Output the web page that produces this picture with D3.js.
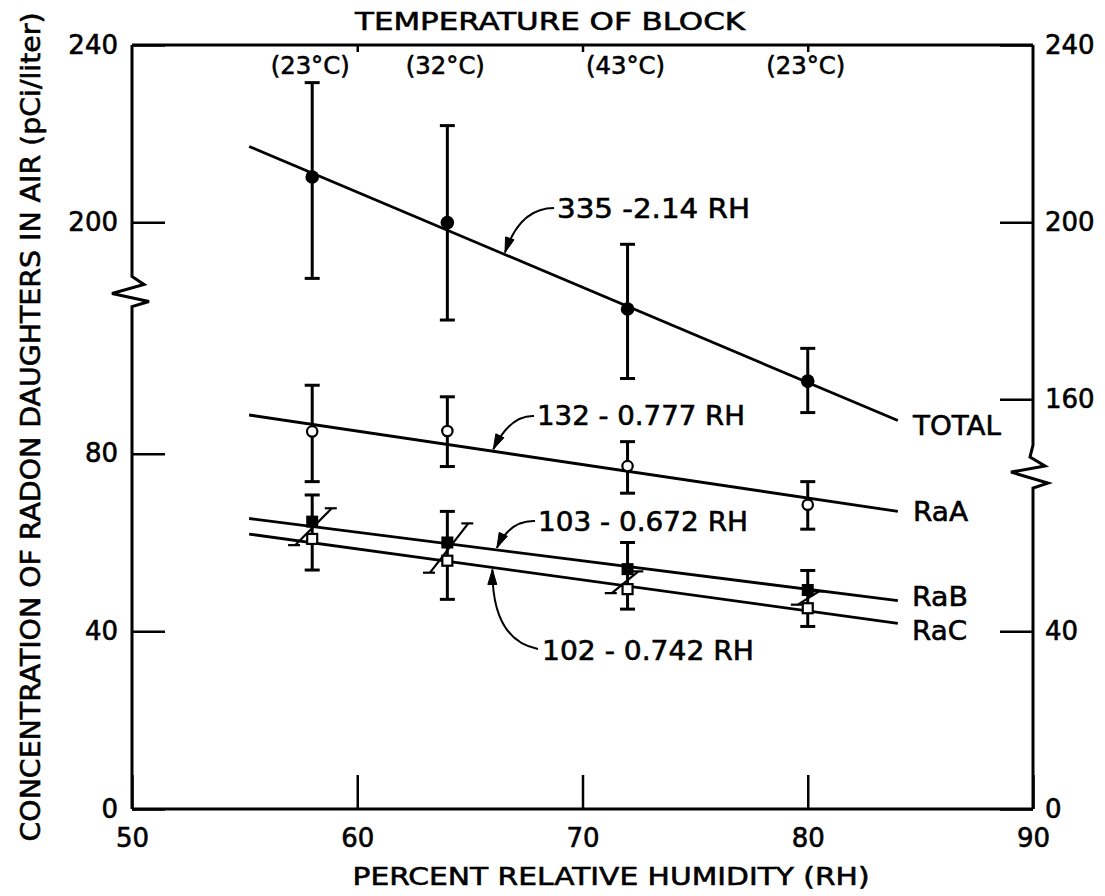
<!DOCTYPE html>
<html><head><meta charset="utf-8">
<script src="https://cdn.jsdelivr.net/npm/d3@7"></script>
<style>
body{margin:0;background:#fff}
svg{display:block}
text{font-family:"DejaVu Sans",sans-serif;fill:#000;stroke:#000;stroke-width:0.6px}
</style>
</head><body>
<svg id="chart" width="1105" height="896"></svg>
<script>
// ---------------- data ----------------
const humidity    = [58, 64, 72, 80];
const blockTemps  = ["(23°C)", "(32°C)", "(43°C)", "(23°C)"];

const totalValues = [210.2, 199.9, 180.4, 164.1];
const totalLow    = [187.3, 177.9, 164.7, 157.0];
const totalHigh   = [231.5, 221.8, 195.0, 171.5];

const raAValues   = [85.0, 85.1, 77.2, 68.5];
const raALow      = [73.7, 77.1, 71.1, 63.0];
const raAHigh     = [95.4, 92.8, 82.7, 73.7];

const raBValues   = [64.7, 60.0, 54.0, 49.3];
const raBHigh     = [70.7, 67.0, 60.0, 53.7];

const raCValues   = [60.8, 55.9, 49.5, 45.2];
const raCLow      = [53.8, 47.2, 45.0, 41.1];

const fitRange    = [55.2, 84.0];
const totalFit    = [217.1, 155.2];
const raAFit      = [88.7, 67.0];
const raBFit      = [65.4, 46.9];
const raCFit      = [61.9, 41.8];

const slantLow    = [[57.24, 59.4], [63.23, 53.2], [71.3, 48.6], [79.56, 46.0]];
const slantHigh   = [[58.87, 67.7], [64.93, 64.3], [72.48, 53.5], [80.5, 49.0]];

const xTicks          = [50, 60, 70, 80, 90];
const topTicks        = [60, 70, 80];
const yLowTicksLeft   = [0, 40, 80];
const yHighTicksLeft  = [200, 240];
const yLowTicksRight  = [0, 40];
const yHighTicksRight = [160, 200, 240];

const seriesNames  = ["TOTAL", "RaA", "RaB", "RaC"];
const fitEquations = ["335 -2.14 RH", "132 - 0.777 RH", "103 - 0.672 RH", "102 - 0.742 RH"];
const equationTipRH = [66.56, 66.04, 66.2, 66.0];

// ---------------- scales ----------------
const svg = d3.select("#chart");
const x = d3.scaleLinear().domain([50, 90]).range([132, 1033]);
const yLow = d3.scaleLinear().domain([0, 172]).range([809, 45]);   // lower segment
const yHigh = d3.scaleLinear().domain([160, 240]).range([399.3, 45]); // upper segment
const leftBreakAt = 116.5;   // lower-scale value of break on left axis
const rightBreakAt = 77.2;   // lower-scale value of break on right axis

const SW = 3;
const ink = "#000";

// ---------------- axes frame ----------------
const lineGen = d3.line();
function axisWithBreak(xv, breakVal, zig) {
  const x0 = x(xv), yc = yLow(breakVal);
  const pts = [[x0, yHigh(240)]];
  zig.forEach(([dx, dy]) => pts.push([x0 + dx, yc + dy]));
  pts.push([x0, yLow(0)]);
  return lineGen(pts);
}
svg.append("path").attr("d", axisWithBreak(50, leftBreakAt,
  [[0, -15], [12, -7], [-20, 2], [17, 10], [0, 15]]))
  .attr("fill", "none").attr("stroke", ink).attr("stroke-width", SW);
svg.append("path").attr("d", axisWithBreak(90, rightBreakAt,
  [[0, -21], [-3, -9], [12, 0], [-22, 6], [15, 17], [0, 22]]))
  .attr("fill", "none").attr("stroke", ink).attr("stroke-width", SW);
svg.append("line").attr("x1", x(50)).attr("x2", x(90)).attr("y1", yHigh(240)).attr("y2", yHigh(240))
  .attr("stroke", ink).attr("stroke-width", SW);
svg.append("line").attr("x1", x(50)).attr("x2", x(90)).attr("y1", yLow(0)).attr("y2", yLow(0))
  .attr("stroke", ink).attr("stroke-width", SW);

function styleAxis(g) {
  g.select(".domain").remove();
  g.selectAll(".tick line").attr("stroke", ink).attr("stroke-width", 2.5);
  g.selectAll(".tick text").attr("font-family", '"DejaVu Sans", sans-serif')
    .attr("font-size", 26).attr("fill", ink);
}

// left axis
svg.append("g").attr("transform", `translate(${x(50)},0)`)
  .call(d3.axisLeft(yLow).tickValues(yLowTicksLeft).tickSize(-33).tickPadding(14))
  .call(styleAxis);
svg.append("g").attr("transform", `translate(${x(50)},0)`)
  .call(d3.axisLeft(yHigh).tickValues(yHighTicksLeft).tickSize(-33).tickPadding(14))
  .call(styleAxis);
// right axis
svg.append("g").attr("transform", `translate(${x(90)},0)`)
  .call(d3.axisRight(yLow).tickValues(yLowTicksRight).tickSize(-33).tickPadding(12))
  .call(styleAxis);
svg.append("g").attr("transform", `translate(${x(90)},0)`)
  .call(d3.axisRight(yHigh).tickValues(yHighTicksRight).tickSize(-33).tickPadding(12))
  .call(styleAxis);
// bottom axis
svg.append("g").attr("transform", `translate(0,${yLow(0)})`)
  .call(d3.axisBottom(x).tickValues(xTicks).tickSize(-34).tickPadding(20))
  .call(styleAxis);
// top short ticks
svg.append("g").attr("transform", `translate(0,${yHigh(240)})`)
  .call(d3.axisTop(x).tickValues(topTicks).tickSize(-7).tickFormat(""))
  .call(styleAxis);

// ---------------- titles ----------------
svg.append("text").attr("x", 550).attr("y", 30).attr("text-anchor", "middle")
  .attr("font-size", 25).attr("textLength", 390).attr("lengthAdjust", "spacingAndGlyphs")
  .text("TEMPERATURE OF BLOCK");
svg.append("text").attr("x", 611).attr("y", 885).attr("text-anchor", "middle")
  .attr("font-size", 25).attr("textLength", 517).attr("lengthAdjust", "spacingAndGlyphs")
  .text("PERCENT RELATIVE HUMIDITY (RH)");
svg.append("text").attr("transform", "translate(40,427) rotate(-90)").attr("text-anchor", "middle")
  .attr("font-size", 27).attr("textLength", 829).attr("lengthAdjust", "spacingAndGlyphs")
  .text("CONCENTRATION OF RADON DAUGHTERS IN AIR (pCi/liter)");

// temperature labels
svg.selectAll("text.temp").data(humidity).join("text").attr("class", "temp")
  .attr("x", d => x(d) - 2).attr("y", 74).attr("text-anchor", "middle")
  .attr("font-size", 25).attr("textLength", 79).attr("lengthAdjust", "spacingAndGlyphs")
  .text((d, i) => blockTemps[i]);

// ---------------- fit lines ----------------
const fits = [
  {vals: totalFit, y: yHigh},
  {vals: raAFit, y: yLow},
  {vals: raBFit, y: yLow},
  {vals: raCFit, y: yLow}
];
fits.forEach(f => {
  svg.append("path")
    .attr("d", lineGen(fitRange.map((r, i) => [x(r), f.y(f.vals[i])])))
    .attr("fill", "none").attr("stroke", ink).attr("stroke-width", 2.8);
});
function fitAt(f, rh) {
  const t = (rh - fitRange[0]) / (fitRange[1] - fitRange[0]);
  return f.y(f.vals[0] + t * (f.vals[1] - f.vals[0]));
}

// ---------------- error bars ----------------
const capW = 15;
function errBar(g, xv, yTop, yBot) {
  g.append("line").attr("x1", xv).attr("x2", xv).attr("y1", yTop).attr("y2", yBot)
    .attr("stroke", ink).attr("stroke-width", SW);
  [yTop, yBot].forEach(yy => g.append("line").attr("x1", xv - capW / 2).attr("x2", xv + capW / 2)
    .attr("y1", yy).attr("y2", yy).attr("stroke", ink).attr("stroke-width", SW));
}
const eb = svg.append("g");
humidity.forEach((h, i) => {
  errBar(eb, x(h), yHigh(totalHigh[i]), yHigh(totalLow[i]));
  errBar(eb, x(h), yLow(raAHigh[i]), yLow(raALow[i]));
  errBar(eb, x(h), yLow(raBHigh[i]), yLow(raCLow[i]));
});
// slanted error marks
humidity.forEach((h, i) => {
  const a = [x(slantLow[i][0]), yLow(slantLow[i][1])];
  const b = [x(slantHigh[i][0]), yLow(slantHigh[i][1])];
  eb.append("line").attr("x1", a[0]).attr("y1", a[1]).attr("x2", b[0]).attr("y2", b[1])
    .attr("stroke", ink).attr("stroke-width", 2.2);
  [a, b].forEach(p => eb.append("line").attr("x1", p[0] - 7).attr("x2", p[0] + 5)
    .attr("y1", p[1]).attr("y2", p[1]).attr("stroke", ink).attr("stroke-width", 2.2));
});

// ---------------- markers ----------------
svg.selectAll("circle.total").data(humidity).join("circle").attr("class", "total")
  .attr("cx", d => x(d)).attr("cy", (d, i) => yHigh(totalValues[i])).attr("r", 6.8).attr("fill", ink);
svg.selectAll("circle.raA").data(humidity).join("circle").attr("class", "raA")
  .attr("cx", d => x(d)).attr("cy", (d, i) => yLow(raAValues[i])).attr("r", 5.2)
  .attr("fill", "#fff").attr("stroke", ink).attr("stroke-width", 2.2);
svg.selectAll("rect.raB").data(humidity).join("rect").attr("class", "raB")
  .attr("x", d => x(d) - 6).attr("y", (d, i) => yLow(raBValues[i]) - 6)
  .attr("width", 12).attr("height", 12).attr("fill", ink);
svg.selectAll("rect.raC").data(humidity).join("rect").attr("class", "raC")
  .attr("x", d => x(d) - 5).attr("y", (d, i) => yLow(raCValues[i]) - 5)
  .attr("width", 10).attr("height", 10).attr("fill", "#fff").attr("stroke", ink).attr("stroke-width", 2.2);

// ---------------- series labels ----------------
const seriesLabelLayout = [
  {x: 913, y: 435, w: 88},
  {x: 913, y: 521, w: 55},
  {x: 912, y: 606, w: 56},
  {x: 912, y: 640, w: 55}
];
seriesNames.forEach((n, i) => {
  const L = seriesLabelLayout[i];
  svg.append("text").attr("x", L.x).attr("y", L.y).attr("font-size", 27)
    .attr("textLength", L.w).attr("lengthAdjust", "spacingAndGlyphs").text(n);
});

// ---------------- equation annotations with leaders ----------------
const eqLayout = [
  {tx: 557, ty: 218, w: 193, start: [554, 208], ctrl: [520, 208]},
  {tx: 537, ty: 425, w: 208, start: [534, 416], ctrl: [510, 415]},
  {tx: 538, ty: 531, w: 210, start: [535, 521], ctrl: [510, 520]},
  {tx: 542, ty: 660, w: 212, start: [538, 649], ctrl: [492, 640]}
];
fitEquations.forEach((eq, i) => {
  const L = eqLayout[i];
  svg.append("text").attr("x", L.tx).attr("y", L.ty).attr("font-size", 27)
    .attr("textLength", L.w).attr("lengthAdjust", "spacingAndGlyphs").text(eq);
  const tipY = fitAt(fits[i], equationTipRH[i]) + (i === 3 ? 2 : -2);
  const tip = [x(equationTipRH[i]), tipY];
  const p = d3.path();
  p.moveTo(L.start[0], L.start[1]);
  p.quadraticCurveTo(L.ctrl[0], L.ctrl[1], tip[0], tip[1]);
  svg.append("path").attr("d", p.toString()).attr("fill", "none")
    .attr("stroke", ink).attr("stroke-width", 2);
  let dx = tip[0] - L.ctrl[0], dy = tip[1] - L.ctrl[1];
  const len = Math.hypot(dx, dy); dx /= len; dy /= len;
  const hl = 15, hw = 4.5;
  const bx = tip[0] - dx * hl, by = tip[1] - dy * hl;
  svg.append("path").attr("d", lineGen([tip, [bx - dy * hw, by + dx * hw], [bx + dy * hw, by - dx * hw]]) + "Z")
    .attr("fill", ink).attr("stroke", ink).attr("stroke-width", 1);
});
</script>
</body></html>
